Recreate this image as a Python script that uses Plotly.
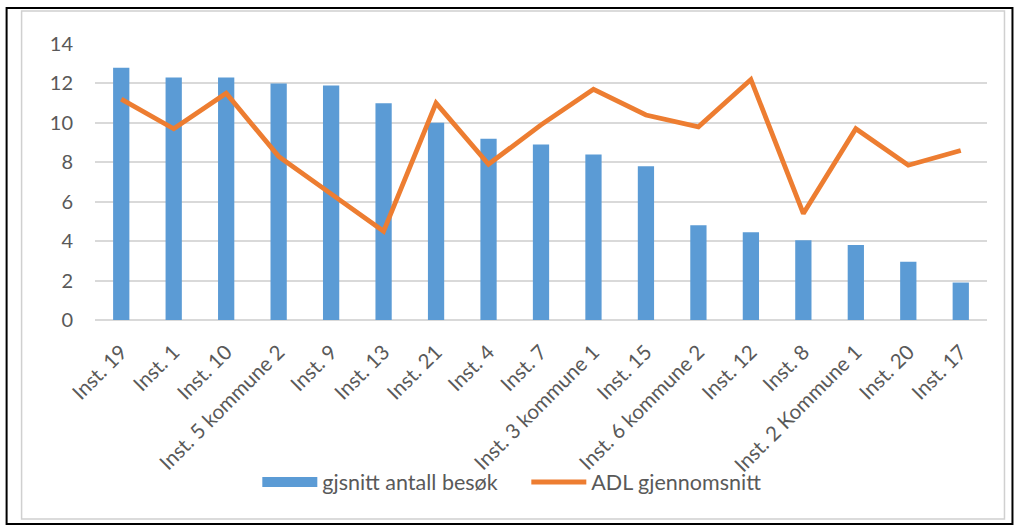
import plotly.graph_objects as go

categories = ["Inst. 19", "Inst. 1", "Inst. 10", "Inst. 5 kommune 2", "Inst. 9", "Inst. 13",
              "Inst. 21", "Inst. 4", "Inst. 7", "Inst. 3 kommune 1", "Inst. 15",
              "Inst. 6 kommune 2", "Inst. 12", "Inst. 8", "Inst. 2 Kommune 1", "Inst. 20", "Inst. 17"]
besok = [12.8, 12.3, 12.3, 12.0, 11.9, 11.0, 10.0, 9.2, 8.9, 8.4, 7.8, 4.8, 4.45, 4.05, 3.8, 2.95, 1.9]
adl = [11.2, 9.7, 11.5, 8.3, 6.4, 4.5, 11.0, 7.9, 9.9, 11.7, 10.4, 9.8, 12.2, 5.4, 9.7, 7.85, 8.6]
y_ticks = [0, 2, 4, 6, 8, 10, 12, 14]
series_names = ["gjsnitt antall besøk", "ADL gjennomsnitt"]

W, H = 1014, 525
L, R, T, B = 94.5, 987.5, 44, 320

font_family = "Lato, 'Open Sans', sans-serif"
txt_color = "#595959"
bar_color = "#5B9BD5"
line_color = "#ED7D31"

fig = go.Figure()
fig.add_trace(go.Bar(x=categories, y=besok, name=series_names[0], showlegend=False,
                     legendgroup="b", marker=dict(color=bar_color, line=dict(width=0)), width=0.31))
# legend entry for the bars, drawn as a wide block like the original legend key
fig.add_trace(go.Scatter(x=[None], y=[None], name=series_names[0], mode="lines", legendgroup="b",
                         line=dict(color=bar_color, width=11)))
fig.add_trace(go.Scatter(x=categories, y=adl, name=series_names[1], mode="lines",
                         line=dict(color=line_color, width=4.8)))


def px_x(p):
    return (p - L) / (R - L)


def px_y(p):
    return (B - p) / (B - T)


shapes = [
    dict(type="rect", xref="paper", yref="paper", x0=px_x(6), x1=px_x(1013), y0=px_y(524), y1=px_y(8),
         line=dict(color="#000000", width=2), fillcolor="rgba(0,0,0,0)", layer="below"),
    dict(type="rect", xref="paper", yref="paper", x0=px_x(21), x1=px_x(1005), y0=px_y(519), y1=px_y(11),
         line=dict(color="#D0D0D0", width=1.5), fillcolor="rgba(0,0,0,0)", layer="below"),
]

fig.update_layout(
    width=W, height=H,
    margin=dict(l=L, r=W - R, t=T, b=H - B, pad=0),
    paper_bgcolor="white", plot_bgcolor="white",
    font=dict(family=font_family, color=txt_color, size=20),
    showlegend=True,
    legend=dict(orientation="h", x=px_x(257), xanchor="left", y=px_y(482), yanchor="middle",
                font=dict(size=21.5, color=txt_color), itemwidth=55, bgcolor="rgba(0,0,0,0)",
                traceorder="normal", entrywidth=199, entrywidthmode="pixels"),
    shapes=shapes,
)
fig.update_xaxes(tickangle=-45, showgrid=False, showline=False, zeroline=False,
                 tickfont=dict(size=20.5, color=txt_color), ticks="", ticklabelstandoff=15)
fig.update_yaxes(range=[0, 14], tickvals=y_ticks, showgrid=True, gridcolor="#D9D9D9", gridwidth=1.5,
                 zeroline=True, zerolinecolor="#D9D9D9", zerolinewidth=1.5, showline=False,
                 tickfont=dict(size=20, color=txt_color), ticks="", ticklabelstandoff=21)

fig.write_html("out.html", config={"displayModeBar": False},
               post_script="document.body.style.margin='0px';")
